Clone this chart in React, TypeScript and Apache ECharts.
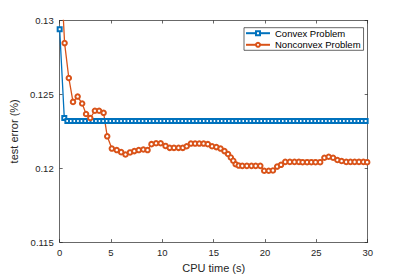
import React, { useEffect, useRef } from "react";
import * as echarts from "echarts";

const xTicks = [0, 5, 10, 15, 20, 25, 30];
const yTicks = [0.115, 0.12, 0.125, 0.13];

const convexTime = [
  0, 0.45, 0.75, 1.1, 1.45, 1.8, 2.15, 2.5, 2.85, 3.2, 3.55, 3.9, 4.25, 4.6, 4.95, 5.3, 5.65, 6, 6.35,
  6.7, 7.05, 7.4, 7.75, 8.1, 8.45, 8.8, 9.15, 9.5, 9.85, 10.2, 10.55, 10.9, 11.25, 11.6, 11.95, 12.3,
  12.65, 13, 13.35, 13.7, 14.05, 14.4, 14.75, 15.1, 15.45, 15.8, 16.15, 16.5, 16.85, 17.2, 17.55, 17.9,
  18.25, 18.6, 18.95, 19.3, 19.65, 20, 20.35, 20.7, 21.05, 21.4, 21.75, 22.1, 22.45, 22.8, 23.15, 23.5,
  23.85, 24.2, 24.55, 24.9, 25.25, 25.6, 25.95, 26.3, 26.65, 27, 27.35, 27.7, 28.05, 28.4, 28.75, 29.1,
  29.45, 29.8,
];
const convexError = [
  0.1294, 0.1234, 0.1232, 0.1232, 0.1232, 0.1232, 0.1232, 0.1232, 0.1232, 0.1232, 0.1232, 0.1232,
  0.1232, 0.1232, 0.1232, 0.1232, 0.1232, 0.1232, 0.1232, 0.1232, 0.1232, 0.1232, 0.1232, 0.1232,
  0.1232, 0.1232, 0.1232, 0.1232, 0.1232, 0.1232, 0.1232, 0.1232, 0.1232, 0.1232, 0.1232, 0.1232,
  0.1232, 0.1232, 0.1232, 0.1232, 0.1232, 0.1232, 0.1232, 0.1232, 0.1232, 0.1232, 0.1232, 0.1232,
  0.1232, 0.1232, 0.1232, 0.1232, 0.1232, 0.1232, 0.1232, 0.1232, 0.1232, 0.1232, 0.1232, 0.1232,
  0.1232, 0.1232, 0.1232, 0.1232, 0.1232, 0.1232, 0.1232, 0.1232, 0.1232, 0.1232, 0.1232, 0.1232,
  0.1232, 0.1232, 0.1232, 0.1232, 0.1232, 0.1232, 0.1232, 0.1232, 0.1232, 0.1232, 0.1232, 0.1232,
  0.1232, 0.1232,
];

const nonconvexTime = [
  0, 0.48, 0.89, 1.3, 1.75, 2.19, 2.57, 2.98, 3.43, 3.84, 4.28, 4.63, 5.08, 5.56, 5.99, 6.41, 6.85,
  7.27, 7.7, 8.15, 8.56, 8.94, 9.39, 9.84, 10.31, 10.72, 11.13, 11.58, 11.99, 12.37, 12.78, 13.19,
  13.6, 14.02, 14.43, 14.84, 15.26, 15.67, 16.05, 16.4, 16.67, 16.91, 17.14, 17.44, 17.79, 18.23,
  18.68, 19.09, 19.54, 19.92, 20.36, 20.77, 21.18, 21.56, 21.97, 22.42, 22.87, 23.3, 23.66, 24.1,
  24.51, 24.92, 25.37, 25.78, 26.2, 26.63, 27.05, 27.46, 27.91, 28.32, 28.73, 29.15, 29.58, 29.95,
];
const nonconvexError = [
  0.135, 0.12847, 0.12611, 0.12449, 0.12485, 0.12438, 0.12367, 0.1234, 0.12389, 0.12389, 0.12375,
  0.12216, 0.12133, 0.12123, 0.12109, 0.12093, 0.12107, 0.12116, 0.12123, 0.12127, 0.12123, 0.12163,
  0.12169, 0.12169, 0.12151, 0.12138, 0.12138, 0.12138, 0.12138, 0.12149, 0.12167, 0.12167, 0.12167,
  0.12167, 0.12163, 0.12149, 0.12143, 0.12133, 0.12116, 0.12096, 0.12073, 0.12051, 0.12027, 0.12018,
  0.12016, 0.12016, 0.12016, 0.12016, 0.12016, 0.11983, 0.11983, 0.11985, 0.12011, 0.12023, 0.12043,
  0.12043, 0.12043, 0.12043, 0.12041, 0.12041, 0.12041, 0.12041, 0.12041, 0.12071, 0.12078, 0.12071,
  0.12056, 0.12049, 0.12043, 0.12043, 0.12043, 0.12043, 0.12043, 0.12041,
];

const seriesNames = ["Convex Problem", "Nonconvex Problem"];

const FONT = "Liberation Sans, Arial, Helvetica, sans-serif";
const AX = "#262626";

export default function App() {
  const ref = useRef<HTMLDivElement>(null);
  useEffect(() => {
    if (!ref.current) return;
    const chart = echarts.init(ref.current, undefined, { renderer: "svg" });
    const pairs = (xs: number[], ys: number[]) => xs.map((x, i) => [x, ys[i]]);
    const axisCommon = {
      type: "value" as const,
      axisLine: { show: true, onZero: false, lineStyle: { color: AX, width: 0.7 } },
      axisTick: { show: true, inside: true, length: 3, lineStyle: { color: AX, width: 0.7 } },
      splitLine: { show: false },
    };
    chart.setOption({
      animation: false,
      backgroundColor: "#ffffff",
      textStyle: { fontFamily: FONT },
      grid: { left: 52.3, right: 39.3, top: 20.5, bottom: 31.3, containLabel: false },
      legend: {
        data: seriesNames,
        orient: "vertical",
        left: 244,
        top: 27.7,
        padding: [0.5, 3, 0.5, 1],
        itemGap: 1.6,
        itemWidth: 24,
        itemHeight: 5,
        borderColor: AX,
        borderWidth: 0.7,
        borderRadius: 0,
        backgroundColor: "#ffffff",
        textStyle: { fontSize: 9.5, color: "#000", fontFamily: FONT, lineHeight: 10 },
      },
      xAxis: [
        {
          ...axisCommon,
          min: 0,
          max: 30,
          interval: 5,
          position: "bottom",
          axisLabel: {
            color: AX,
            fontSize: 9.5,
            margin: 5,
            fontFamily: FONT,
            formatter: (v: number) => (xTicks.includes(v) ? String(v) : ""),
          },
          name: "CPU time (s)",
          nameLocation: "middle",
          nameGap: 16,
          nameTextStyle: { fontSize: 11, color: AX, fontFamily: FONT },
        },
        {
          ...axisCommon,
          min: 0,
          max: 30,
          interval: 5,
          position: "top",
          axisLabel: { show: false },
        },
      ],
      yAxis: [
        {
          ...axisCommon,
          min: 0.115,
          max: 0.13,
          interval: 0.005,
          position: "left",
          axisLabel: {
            color: AX,
            fontSize: 9.5,
            margin: 6,
            fontFamily: FONT,
            formatter: (v: number) => {
              const s = String(parseFloat(v.toFixed(3)));
              return yTicks.some((t) => Math.abs(t - v) < 1e-9) ? s : "";
            },
          },
          name: "test error (%)",
          nameLocation: "middle",
          nameGap: 31,
          nameTextStyle: { fontSize: 11, color: AX, fontFamily: FONT },
        },
        {
          ...axisCommon,
          min: 0.115,
          max: 0.13,
          interval: 0.005,
          position: "right",
          axisLabel: { show: false },
        },
      ],
      series: [
        {
          name: seriesNames[0],
          type: "line",
          data: pairs(convexTime, convexError),
          xAxisIndex: 0,
          yAxisIndex: 0,
          symbol: "emptyRect",
          symbolSize: 4,
          showAllSymbol: true,
          clip: true,
          color: "#0072BD",
          lineStyle: { color: "#0072BD", width: 1.3 },
          itemStyle: { color: "#0072BD", borderWidth: 1 },
        },
        {
          name: seriesNames[1],
          type: "line",
          data: pairs(nonconvexTime, nonconvexError),
          xAxisIndex: 0,
          yAxisIndex: 0,
          symbol: "emptyCircle",
          symbolSize: 4.5,
          showAllSymbol: true,
          clip: true,
          color: "#D95319",
          lineStyle: { color: "#D95319", width: 1.3 },
          itemStyle: { color: "#D95319", borderWidth: 1 },
        },
      ],
    });
    return () => chart.dispose();
  }, []);
  return (
    <div
      ref={ref}
      style={{ position: "fixed", left: 0, top: 0, width: 407, height: 278, background: "#fff" }}
    />
  );
}
